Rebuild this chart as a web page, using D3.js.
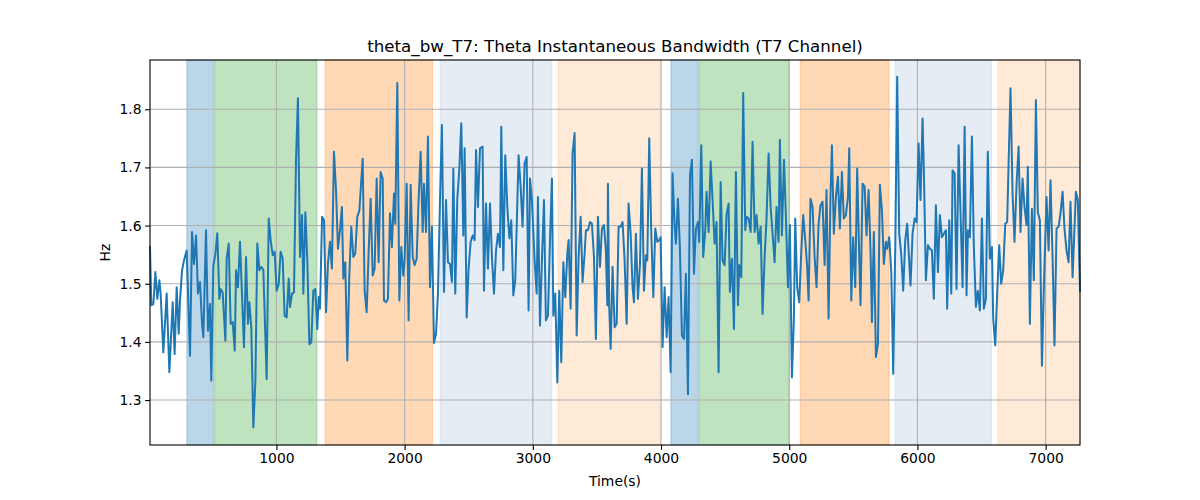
<!DOCTYPE html>
<html><head><meta charset="utf-8">
<script src="https://cdn.jsdelivr.net/npm/d3@7"></script>
<style>body{margin:0;background:#fff}svg text{font-family:"DejaVu Sans",sans-serif}</style>
</head><body>
<svg id="c" width="1200" height="500"></svg>
<script>
const times = [14,24,40,56,71,87,97,118,144,165,191,206,222,238,248,264,279,300,326,342,357,373,388,404,420,430,451,466,482,492,508,524,539,555,565,581,602,612,628,643,659,675,685,700,
716,747,763,778,789,804,820,836,851,867,882,898,924,940,955,971,986,1002,1018,1033,1049,1064,1080,1096,1106,1122,1137,1153,1168,1184,1200,1210,1226,1241,1257,1272,1288,1303,1319,1330,1340,1356,1371,1387,1402,1418,
1433,1449,1465,1480,1496,1511,1522,1537,1553,1569,1584,1600,1615,1631,1647,1662,1673,1688,1704,1719,1735,1751,1766,1782,1797,1813,1829,1839,1855,1870,1886,1901,1917,1927,1943,1959,1974,1990,2000,2016,2031,2047,2063,2078,2094,2109,2125,2141,
2151,2167,2182,2198,2213,2229,2245,2260,2276,2291,2307,2323,2338,2354,2369,2380,2395,2411,2427,2442,2458,2468,2484,2499,2515,2531,2546,2557,2572,2588,2608,2619,2635,2650,2666,2681,2697,2713,2728,2744,2754,2770,2785,2801,2817,2832,2848,2863,
2889,2905,2920,2936,2952,2967,2978,2993,3014,3030,3040,3056,3071,3087,3102,3118,3134,3149,3160,3175,3191,3206,3222,3238,3253,3269,3279,3295,3310,3326,3342,3357,3373,3388,3404,3414,3430,3446,3461,3477,3492,3508,3524,3539,3555,3570,3581,
3586,3596,3607,3622,3638,3654,3669,3685,3700,3716,3732,3747,3763,3778,3789,3804,3820,3836,3851,3867,3882,3893,3908,3924,3940,3955,3971,3986,3997,4012,4028,4044,4059,4075,4090,4106,4116,4132,4147,4163,4179,4194,4210,4226,4241,4257,4272,4288,4298,
4314,4329,4345,4355,4371,4387,4402,4418,4433,4449,4465,4480,4496,4511,4527,4537,4553,4569,4584,4600,4610,4626,4641,4657,4667,4683,4699,4714,4730,4745,4761,4777,4792,4808,4823,4839,4855,4870,4886,4901,4917,4927,4943,4959,4974,4990,5005,
5021,5036,5047,5062,5078,5094,5109,5125,5140,5151,5166,5182,5198,5213,5229,5244,5260,5276,5291,5307,5322,5333,5348,5364,5380,5395,5411,5426,5442,5458,5468,5484,5499,5515,5530,5546,5556,5572,5588,5603,5619,5634,5645,5660,5676,5692,5707,5723,
5738,5754,5764,5780,5796,5811,5827,5842,5858,5874,5889,5905,5920,5946,5962,5978,5993,6009,6024,6040,6050,6066,6082,6097,6113,6128,6144,6160,6175,6191,6206,6222,6232,6248,6264,6274,6290,6305,6321,6336,6352,6368,6383,6394,6409,6425,6440,
6456,6471,6487,6503,6518,6534,6549,6565,6581,6591,6607,6622,6638,6653,6669,6685,6700,6711,6726,6742,6757,6773,6789,6804,6820,6835,6851,6861,6877,6893,6908,6924,6939,6955,6971,6986,7007,7023,7038,7054,7069,7085,7101,7116,7132,7147,7163,7179,7194,7210,7225,7236,7251,7268];
const bandwidth = [1.563,1.463,1.465,1.520,1.474,1.506,1.483,1.382,1.483,1.348,1.468,1.379,1.494,1.414,1.471,1.523,1.540,1.557,1.376,1.589,1.534,1.583,1.483,1.503,1.431,1.408,1.592,1.419,1.465,1.333,1.531,1.551,1.587,1.474,1.491,1.485,1.402,1.543,1.569,1.431,1.434,1.385,1.523,1.494,
1.572,1.391,1.546,1.431,1.468,1.425,1.253,1.333,1.569,1.523,1.529,1.524,1.336,1.612,1.575,1.549,1.555,1.488,1.500,1.555,1.543,1.445,1.442,1.509,1.460,1.483,1.485,1.713,1.819,1.546,1.618,1.483,1.623,1.540,1.396,1.399,1.488,1.491,1.422,1.477,1.457,1.615,1.609,1.451,1.534,1.572,
1.526,1.727,1.661,1.560,1.592,1.632,1.509,1.537,1.368,1.517,1.598,1.546,1.552,1.615,1.626,1.678,1.715,1.488,1.451,1.552,1.646,1.514,1.526,1.681,1.537,1.692,1.681,1.471,1.468,1.474,1.621,1.563,1.655,1.603,1.845,1.471,1.563,1.514,1.540,1.672,1.437,1.670,1.546,1.532,1.543,1.644,1.727,1.589,
1.672,1.589,1.753,1.494,1.598,1.398,1.414,1.483,1.644,1.773,1.486,1.644,1.537,1.534,1.503,1.698,1.483,1.646,1.698,1.776,1.583,1.733,1.442,1.526,1.572,1.583,1.575,1.730,1.632,1.733,1.736,1.488,1.638,1.526,1.638,1.546,1.483,1.557,1.586,1.563,1.770,1.523,1.721,1.632,1.578,1.609,1.480,1.506,
1.721,1.667,1.598,1.707,1.718,1.454,1.681,1.644,1.540,1.483,1.649,1.428,1.540,1.644,1.437,1.445,1.575,1.681,1.445,1.483,1.330,1.488,1.365,1.537,1.477,1.552,1.575,1.457,1.724,1.759,1.411,1.546,1.615,1.503,1.552,1.592,1.592,1.606,1.603,1.546,1.405,1.615,1.529,1.595,1.601,1.555,1.463,
1.672,1.460,1.388,1.529,1.425,1.431,1.598,1.598,1.606,1.540,1.431,1.638,1.586,1.494,1.468,1.586,1.474,1.534,1.698,1.488,1.549,1.540,1.750,1.586,1.477,1.595,1.572,1.575,1.580,1.391,1.494,1.408,1.477,1.348,1.690,1.598,1.569,1.646,1.563,1.411,1.405,1.517,1.310,1.687,1.713,1.517,1.595,1.606,1.572,
1.738,1.546,1.592,1.658,1.589,1.710,1.644,1.569,1.606,1.348,1.675,1.540,1.532,1.618,1.638,1.486,1.543,1.422,1.692,1.463,1.532,1.511,1.828,1.592,1.615,1.612,1.589,1.744,1.589,1.618,1.569,1.598,1.448,1.546,1.612,1.724,1.632,1.586,1.537,1.632,1.572,1.747,1.583,1.713,1.615,1.494,1.601,
1.339,1.437,1.612,1.494,1.468,1.555,1.618,1.575,1.529,1.471,1.646,1.632,1.546,1.494,1.603,1.635,1.641,1.532,1.661,1.440,1.652,1.738,1.586,1.649,1.684,1.595,1.692,1.612,1.618,1.649,1.733,1.471,1.580,1.494,1.698,1.546,1.463,1.672,1.667,1.583,1.661,1.557,1.434,1.589,1.374,1.396,1.670,1.626,
1.534,1.572,1.560,1.580,1.520,1.345,1.563,1.856,1.586,1.549,1.488,1.575,1.603,1.497,1.586,1.612,1.606,1.741,1.644,1.784,1.695,1.506,1.566,1.560,1.557,1.474,1.635,1.520,1.618,1.580,1.586,1.592,1.457,1.609,1.483,1.695,1.690,1.491,1.738,1.623,1.494,1.770,1.480,1.592,1.580,1.753,1.563,
1.460,1.488,1.454,1.612,1.457,1.474,1.727,1.543,1.563,1.440,1.394,1.483,1.566,1.500,1.523,1.603,1.606,1.707,1.836,1.655,1.572,1.670,1.736,1.589,1.681,1.632,1.601,1.701,1.431,1.629,1.506,1.816,1.623,1.609,1.359,1.494,1.649,1.557,1.678,1.546,1.394,1.595,1.598,1.621,1.658,1.595,1.557,1.537,1.641,1.511,1.595,1.658,1.644,1.488];

const bandStarts = [301, 519, 1379, 2277, 3196, 4077, 4298, 5085, 5826, 6627];
const bandEnds   = [510, 1316, 2217, 3148, 3994, 4290, 5000, 5779, 6578, 7268];
const bandColors = ["#1f77b4","#2ca02c","#ff7f0e","#b0c4de","#ff7f0e","#1f77b4","#2ca02c","#ff7f0e","#b0c4de","#ff7f0e"];
const bandAlphas = [0.3,0.3,0.3,0.32,0.16,0.3,0.3,0.3,0.32,0.16];

const xTicks = [1000,2000,3000,4000,5000,6000,7000];
const yTicks = [1.3,1.4,1.5,1.6,1.7,1.8];
const yDomain = [1.2227, 1.8847];

const W=1200,H=500,L=150,R=1080,T=60,B=445;
const svg=d3.select("#c");
const x=d3.scaleLinear().domain([d3.min(times), d3.max(times)]).range([L,R]);
const y=d3.scaleLinear().domain(yDomain).range([B,T]);

const bands = bandStarts.map((s,i)=>({s,e:bandEnds[i],c:bandColors[i],a:bandAlphas[i]}));
svg.append("g").selectAll("rect").data(bands).join("rect")
  .attr("x",d=>x(d.s)).attr("width",d=>x(d.e)-x(d.s))
  .attr("y",T).attr("height",B-T)
  .attr("fill",d=>d.c).attr("fill-opacity",d=>d.a)
  .attr("stroke",d=>d.c).attr("stroke-opacity",d=>d.a).attr("stroke-width",1);

// grid
const g=svg.append("g");
g.selectAll(".gx").data(xTicks).join("line")
  .attr("x1",d=>x(d)).attr("x2",d=>x(d)).attr("y1",T).attr("y2",B)
  .attr("stroke","#b0b0b0").attr("stroke-width",1.1);
g.selectAll(".gy").data(yTicks).join("line")
  .attr("y1",d=>y(d)).attr("y2",d=>y(d)).attr("x1",L).attr("x2",R)
  .attr("stroke","#b0b0b0").attr("stroke-width",1.1);

// line
const pts = times.map((t,i)=>[t,bandwidth[i]]);
svg.append("path").datum(pts)
  .attr("d",d3.line().x(d=>x(d[0])).y(d=>y(d[1])))
  .attr("fill","none").attr("stroke","#1f77b4").attr("stroke-width",2)
  .attr("stroke-linejoin","round").attr("stroke-linecap","square");

// axes
const xa=svg.append("g").attr("transform",`translate(0,${B})`)
  .call(d3.axisBottom(x).tickValues(xTicks).tickSize(4.9).tickPadding(3.5).tickFormat(d3.format("d")));
const ya=svg.append("g").attr("transform",`translate(${L},0)`)
  .call(d3.axisLeft(y).tickValues(yTicks).tickSize(4.9).tickPadding(3.5).tickFormat(d3.format(".1f")));
[xa,ya].forEach(a=>{
  a.select(".domain").remove();
  a.selectAll("line").attr("stroke","#000").attr("stroke-width",1.1);
  a.selectAll("text").attr("font-size","13.9px").attr("fill","#000").attr("font-family","DejaVu Sans");
});
svg.append("rect").attr("x",L).attr("y",T).attr("width",R-L).attr("height",B-T)
  .attr("fill","none").attr("stroke","#000").attr("stroke-width",1.1);

svg.append("text").attr("x",(L+R)/2).attr("y",52).attr("text-anchor","middle")
  .attr("font-size","16.7px").text("theta_bw_T7: Theta Instantaneous Bandwidth (T7 Channel)");
svg.append("text").attr("x",(L+R)/2).attr("y",486).attr("text-anchor","middle")
  .attr("font-size","13.9px").text("Time(s)");
svg.append("text").attr("transform",`translate(110,${(T+B)/2}) rotate(-90)`).attr("text-anchor","middle")
  .attr("font-size","13.9px").text("Hz");
</script>
</body></html>
